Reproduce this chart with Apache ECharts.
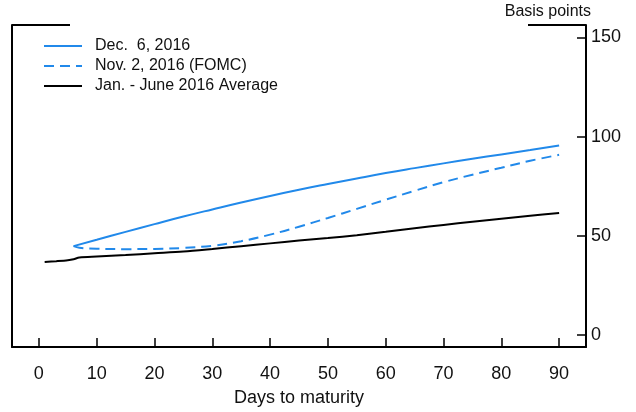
<!DOCTYPE html>
<html>
<head>
<meta charset="utf-8">
<script src="https://cdn.jsdelivr.net/npm/echarts@6/dist/echarts.min.js"></script>
<style>html,body{margin:0;padding:0;background:#fff}#c{width:636px;height:412px}</style>
</head>
<body>
<div id="c"></div>
<script>
// ---- data ----
var seriesNames = ['Dec.  6, 2016', 'Nov. 2, 2016 (FOMC)', 'Jan. - June 2016 Average'];
var decDays = [6, 10, 15, 20, 25, 30, 35, 40, 45, 50, 55, 60, 65, 70, 75, 80, 85, 90];
var decVals = [44.8, 48.0, 52.0, 55.9, 59.7, 63.3, 66.8, 70.1, 73.2, 76.1, 78.9, 81.6, 84.1, 86.5, 88.8, 91.0, 93.2, 95.5];
var novDays = [6, 7, 10, 15, 20, 25, 30, 35, 40, 45, 50, 55, 60, 65, 70, 75, 80, 85, 90];
var novVals = [44.8, 44.0, 43.5, 43.3, 43.4, 43.9, 45.0, 47.3, 50.6, 54.6, 59.0, 63.6, 68.2, 72.7, 77.0, 80.8, 84.3, 87.8, 90.8];
var avgDays = [1, 3, 5, 6, 7, 10, 15, 20, 25, 30, 35, 40, 45, 50, 55, 60, 65, 70, 75, 80, 85, 90];
var avgVals = [36.8, 37.2, 37.7, 38.2, 39.1, 39.6, 40.3, 41.2, 42.1, 43.4, 44.8, 46.2, 47.6, 48.9, 50.3, 52.0, 53.8, 55.5, 57.1, 58.6, 60.1, 61.5];
var xTicks = [0, 10, 20, 30, 40, 50, 60, 70, 80, 90];
var yTicks = [0, 50, 100, 150];

function pairs(xs, ys) { return xs.map(function (x, i) { return [x, ys[i]]; }); }

var FONT = 'Liberation Sans';
var BLUE = '#2189ea';
var G = { left: 12, right: 50, top: 25, bottom: 65 };
var W = 636, H = 412;

var chart = echarts.init(document.getElementById('c'), null, { renderer: 'canvas' });
chart.setOption({
  animation: false,
  backgroundColor: '#fff',
  textStyle: { fontFamily: FONT },
  title: {
    text: 'Basis points', right: 45, top: 4, padding: 0,
    textStyle: { fontFamily: FONT, fontSize: 16, fontWeight: 'normal', color: '#111' }
  },
  legend: {
    orient: 'vertical', left: 43, top: 38, padding: 0,
    itemWidth: 38, itemHeight: 10, itemGap: 4,
    itemStyle: { opacity: 0, borderWidth: 0 },
    textStyle: { fontFamily: FONT, fontSize: 16, color: '#111', lineHeight: 16, padding: [0, 0, 0, 8] },
    data: seriesNames
  },
  grid: { left: G.left, right: G.right, top: G.top, bottom: G.bottom, containLabel: false },
  xAxis: {
    type: 'value', min: -4.65, max: 94.65,
    name: 'Days to maturity', nameLocation: 'middle', nameGap: 42,
    nameTextStyle: { fontFamily: FONT, fontSize: 18, color: '#111' },
    axisLine: { show: true, onZero: false, lineStyle: { color: '#000', width: 2 } },
    axisTick: { show: true, inside: true, length: 9, customValues: xTicks, lineStyle: { color: '#000', width: 1.5 } },
    axisLabel: { customValues: xTicks, margin: 18, fontFamily: FONT, fontSize: 18, color: '#111' },
    splitLine: { show: false }
  },
  yAxis: [{
    type: 'value', min: -6, max: 156.2, position: 'right',
    axisLine: { show: true, onZero: false, lineStyle: { color: '#000', width: 2 } },
    axisTick: { show: true, inside: true, length: 9, customValues: yTicks, lineStyle: { color: '#000', width: 1.5 } },
    axisLabel: { customValues: yTicks, margin: 5, fontFamily: FONT, fontSize: 18, color: '#111' },
    splitLine: { show: false }
  }, {
    type: 'value', min: -6, max: 156.2, position: 'left',
    axisLine: { show: true, onZero: false, lineStyle: { color: '#000', width: 2 } },
    axisTick: { show: false }, axisLabel: { show: false }, splitLine: { show: false }
  }],
  graphic: [
    { type: 'line', shape: { x1: G.left, y1: G.top, x2: G.left + 58, y2: G.top }, style: { stroke: '#000', lineWidth: 2 } },
    { type: 'line', shape: { x1: W - G.right - 58, y1: G.top, x2: W - G.right, y2: G.top }, style: { stroke: '#000', lineWidth: 2 } }
  ],
  series: [
    { name: seriesNames[0], type: 'line', data: pairs(decDays, decVals), smooth: 0.5, symbol: 'none',
      lineStyle: { color: BLUE, width: 2 }, itemStyle: { color: BLUE } },
    { name: seriesNames[1], type: 'line', data: pairs(novDays, novVals), smooth: 0.4, symbol: 'none',
      lineStyle: { color: BLUE, width: 2, type: [10, 6] }, itemStyle: { color: BLUE } },
    { name: seriesNames[2], type: 'line', data: pairs(avgDays, avgVals), smooth: 0.3, symbol: 'none',
      lineStyle: { color: '#000', width: 2 }, itemStyle: { color: '#000' } }
  ]
});
</script>
</body>
</html>
